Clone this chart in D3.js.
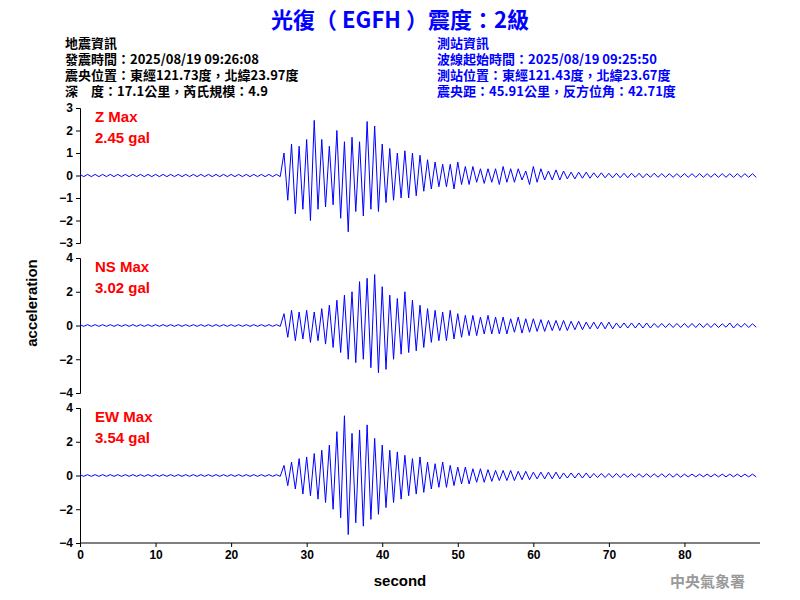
<!DOCTYPE html>
<html>
<head>
<meta charset="UTF-8">
<script src="https://d3js.org/d3.v7.min.js"></script>
<style>
  body { margin: 0; background: #fff; }
  text { font-family: Arial, "Liberation Sans", sans-serif; }
  .cjk { font-family: "Noto Sans CJK TC", sans-serif; font-weight: bold; }
  .axis text { font-size: 12px; font-weight: bold; }
</style>
</head>
<body>
<svg id="chart" width="800" height="600"></svg>
<script>
// per-second envelope (max / min) of each trace, t = 0..89 s
const pre = Array(27).fill(0.05);
const preMin = Array(27).fill(-0.05);
const zMax = pre.concat([1.0,1.4,1.3,1.6,2.45,1.6,1.3,2.0,1.5,1.7,1.5,2.4,2.2,1.4,1.2,1.0,1.1,1.0,0.9,0.7,0.6,0.5,0.5,0.6,0.4,0.4,0.3,0.3,0.3,0.4,0.3,0.3,0.2,0.4,0.3,0.2,0.25,0.2,0.15,0.15,0.15,0.12,0.12,0.1,0.1,0.1,0.1,0.1,0.08,0.1,0.08,0.08,0.08,0.08,0.08,0.08,0.08,0.08,0.08,0.08,0.08,0.08,0.08]);
const zMin = preMin.concat([-1.1,-1.7,-1.5,-2.0,-1.5,-1.4,-1.3,-1.9,-2.5,-1.6,-1.8,-1.5,-1.6,-1.2,-1.1,-1.0,-1.0,-0.9,-0.7,-0.6,-0.5,-0.5,-0.6,-0.4,-0.4,-0.3,-0.35,-0.3,-0.4,-0.3,-0.3,-0.2,-0.4,-0.3,-0.2,-0.2,-0.2,-0.15,-0.15,-0.12,-0.12,-0.1,-0.1,-0.1,-0.1,-0.1,-0.08,-0.1,-0.08,-0.08,-0.08,-0.08,-0.08,-0.08,-0.08,-0.08,-0.08,-0.08,-0.08,-0.08,-0.08,-0.08,-0.08]);
const nsMax = pre.concat([0.7,0.9,0.8,0.9,0.8,1.0,1.2,1.5,1.8,2.0,2.6,2.8,3.02,2.3,1.8,1.6,2.0,1.5,1.2,1.0,0.9,0.8,0.9,0.7,0.6,0.6,0.5,0.6,0.5,0.5,0.4,0.5,0.4,0.4,0.35,0.3,0.3,0.3,0.25,0.25,0.2,0.2,0.2,0.2,0.15,0.15,0.15,0.15,0.15,0.12,0.12,0.12,0.12,0.12,0.12,0.12,0.12,0.12,0.1,0.15,0.1,0.12,0.1]);
const nsMin = preMin.concat([-0.7,-0.9,-0.8,-1.0,-0.9,-1.1,-1.3,-1.6,-2.0,-2.2,-2.0,-2.5,-2.8,-2.6,-2.0,-1.7,-1.6,-1.5,-1.3,-1.0,-0.9,-0.9,-0.8,-0.7,-0.6,-0.6,-0.5,-0.5,-0.5,-0.5,-0.4,-0.45,-0.4,-0.35,-0.35,-0.3,-0.3,-0.3,-0.25,-0.25,-0.2,-0.2,-0.2,-0.2,-0.15,-0.15,-0.15,-0.15,-0.15,-0.12,-0.12,-0.12,-0.12,-0.12,-0.12,-0.12,-0.12,-0.12,-0.1,-0.15,-0.1,-0.12,-0.1]);
const ewMax = pre.concat([0.6,0.8,1.0,1.1,1.3,1.5,1.8,2.6,3.54,2.5,2.7,3.0,2.2,1.8,1.5,1.4,1.2,1.0,1.1,0.8,0.7,0.8,0.6,0.5,0.5,0.4,0.4,0.35,0.3,0.3,0.3,0.25,0.25,0.2,0.2,0.2,0.2,0.15,0.15,0.15,0.15,0.12,0.12,0.12,0.12,0.1,0.1,0.1,0.1,0.1,0.1,0.1,0.1,0.08,0.08,0.08,0.08,0.08,0.08,0.08,0.08,0.08,0.08]);
const ewMin = preMin.concat([-0.6,-0.8,-1.1,-1.2,-1.4,-1.6,-2.0,-2.5,-3.5,-2.8,-3.0,-2.6,-2.3,-1.9,-1.6,-1.4,-1.2,-1.1,-1.0,-0.8,-0.7,-0.7,-0.6,-0.5,-0.5,-0.4,-0.4,-0.35,-0.3,-0.3,-0.3,-0.25,-0.25,-0.2,-0.2,-0.2,-0.2,-0.15,-0.15,-0.15,-0.15,-0.12,-0.12,-0.12,-0.12,-0.1,-0.1,-0.1,-0.1,-0.1,-0.1,-0.1,-0.1,-0.08,-0.08,-0.08,-0.08,-0.08,-0.08,-0.08,-0.08,-0.08,-0.08]);

const panels = [
  { name: "Z Max", peak: "2.45 gal", max: zMax, min: zMin, lim: 3, ticks: [-3,-2,-1,0,1,2,3], top: 108, bottom: 243 },
  { name: "NS Max", peak: "3.02 gal", max: nsMax, min: nsMin, lim: 4, ticks: [-4,-2,0,2,4], top: 258, bottom: 393 },
  { name: "EW Max", peak: "3.54 gal", max: ewMax, min: ewMin, lim: 4, ticks: [-4,-2,0,2,4], top: 408, bottom: 543 }
];
const xTicks = [0,10,20,30,40,50,60,70,80];

const svg = d3.select("#chart");
const x = d3.scaleLinear().domain([0, 90]).range([80, 760]);

// header
svg.append("text").attr("class", "cjk").attr("x", 400).attr("y", 28).attr("text-anchor", "middle")
  .attr("fill", "#0000ff").attr("font-size", 22).text("光復（ EGFH ）震度：2級");
const left = ["地震資訊", "發震時間：2025/08/19 09:26:08", "震央位置：東經121.73度，北緯23.97度", "深　度：17.1公里，芮氏規模：4.9"];
const right = ["測站資訊", "波線起始時間：2025/08/19 09:25:50", "測站位置：東經121.43度，北緯23.67度", "震央距：45.91公里，反方位角：42.71度"];
left.forEach((t, i) => svg.append("text").attr("class", "cjk").attr("x", 65).attr("y", 48 + i * 16)
  .attr("font-size", 13).attr("fill", "#000").text(t));
right.forEach((t, i) => svg.append("text").attr("class", "cjk").attr("x", 437).attr("y", 48 + i * 16)
  .attr("font-size", 13).attr("fill", "#0000ff").text(t));

panels.forEach((p, k) => {
  const y = d3.scaleLinear().domain([-p.lim, p.lim]).range([p.bottom, p.top]);
  svg.append("g").attr("class", "axis").attr("transform", "translate(80,0)")
    .call(d3.axisLeft(y).tickValues(p.ticks).tickSize(4).tickFormat(d3.format("d")))
    .call(g => g.selectAll("line, path").attr("stroke", "#000"));
  // zigzag through each second's max and min
  const pts = [];
  p.max.forEach((v, i) => { pts.push([i, v]); pts.push([i + 0.5, p.min[i]]); });
  svg.append("path").datum(pts)
    .attr("fill", "none").attr("stroke", "#0000ff").attr("stroke-width", 1)
    .attr("d", d3.line().x(d => x(d[0])).y(d => y(d[1])));
  svg.append("text").attr("x", 95).attr("y", p.top + 14).attr("fill", "#ff0000")
    .attr("font-size", 15).attr("font-weight", "bold").text(p.name);
  svg.append("text").attr("x", 95).attr("y", p.top + 35).attr("fill", "#ff0000")
    .attr("font-size", 15).attr("font-weight", "bold").text(p.peak);
});

svg.append("g").attr("class", "axis").attr("transform", "translate(0,543)")
  .call(d3.axisBottom(x).tickValues(xTicks).tickSize(4))
  .call(g => g.select(".domain").attr("d", "M80,0H760"));

svg.append("text").attr("x", 400).attr("y", 586).attr("text-anchor", "middle")
  .attr("font-size", 15).attr("font-weight", "bold").text("second");
svg.append("text").attr("transform", "translate(37,303) rotate(-90)").attr("text-anchor", "middle")
  .attr("font-size", 15).attr("font-weight", "bold").text("acceleration");
svg.append("text").attr("class", "cjk").attr("x", 745).attr("y", 587).attr("text-anchor", "end")
  .attr("font-size", 15).attr("fill", "#999").text("中央氣象署");
</script>
</body>
</html>
